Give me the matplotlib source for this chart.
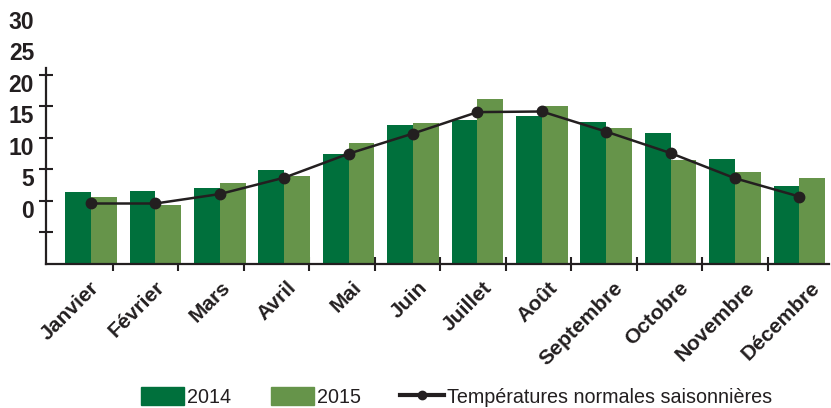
import numpy as np
import matplotlib
matplotlib.use("Agg")
import matplotlib.pyplot as plt
import matplotlib.transforms as mtransforms
from matplotlib import font_manager as fm
from matplotlib.patches import Patch
from matplotlib.lines import Line2D

months = ["Janvier", "Février", "Mars", "Avril", "Mai", "Juin", "Juillet",
          "Août", "Septembre", "Octobre", "Novembre", "Décembre"]
t2014 = [1.4, 1.6, 2.1, 4.9, 7.5, 12.1, 12.9, 13.5, 12.5, 10.8, 6.7, 2.4]
t2015 = [0.6, -0.6, 2.9, 4.0, 9.2, 12.3, 16.2, 15.1, 11.6, 6.5, 4.6, 3.7]
normales = [-0.4, -0.4, 1.1, 3.7, 7.5, 10.7, 14.1, 14.2, 11.0, 7.6, 3.6, 0.7]
ylabels = [0, 5, 10, 15, 20, 25, 30]

DARK = "#00703c"
LIGHT = "#66944a"
INK = "#231f20"

names = {f.name for f in fm.fontManager.ttflist}
narrow = "Liberation Sans Narrow" in names
BOLDFAM = ["Liberation Sans Narrow" if narrow else "Liberation Sans", "DejaVu Sans"]
REG = ["Liberation Sans", "DejaVu Sans"]

fig = plt.figure(figsize=(8.31, 4.08), dpi=100)
ax = fig.add_axes([46/831, 1-264/408, (829-46)/831, (264-68)/408])

x = np.arange(len(months))
w = 0.40
base = -10
ax.bar(x - w/2, np.array(t2014) - base, w, bottom=base, color=DARK, zorder=2)
ax.bar(x + w/2, np.array(t2015) - base, w, bottom=base, color=LIGHT, zorder=2)
ax.plot(x, normales, color=INK, lw=1.8, marker="o", ms=7.5, zorder=3)

ax.set_xlim(-0.70, 11.46)
ax.set_ylim(-10, 21.1)

for s in ["top", "right"]:
    ax.spines[s].set_visible(False)
for s in ["left", "bottom"]:
    ax.spines[s].set_color(INK)
    ax.spines[s].set_linewidth(1.6)
    ax.spines[s].set_zorder(4)

# boundary ticks (slightly wider spacing than the bars, as in the reference)
step = (10.51 - 0.34) / 10
ax.set_xticks(0.34 + step * np.arange(11))
ax.set_xticklabels([])
ax.set_yticks([-5, 0, 5, 10, 15, 20])
ax.set_yticklabels([])
ax.tick_params(axis="both", which="major", direction="inout", length=10,
               width=1.5, color=INK)

# month labels follow the tick spacing
fs_month = 17.5 if narrow else 15.2
ax.set_xticks(step * np.arange(len(months)) - 0.02, minor=True)
ax.set_xticklabels(months, minor=True, rotation=45, ha="right",
                   rotation_mode="anchor", fontsize=fs_month, fontweight="bold",
                   family=BOLDFAM, color=INK)
ax.tick_params(axis="x", which="minor", length=0, pad=10)

# y labels (offset below ticks as in the reference)
tr = mtransforms.blended_transform_factory(fig.transFigure, ax.transData)
for v in ylabels:
    ax.text(34/831, v - 1.65, str(v), transform=tr, ha="right", va="center",
            fontsize=18 if narrow else 16.5, fontweight="bold",
            family=BOLDFAM, color=INK, clip_on=False)

handles = [Patch(color=DARK), Patch(color=LIGHT),
           Line2D([], [], color=INK, lw=3, marker="o", ms=6)]
fig.legend(handles, ["2014", "2015", "Températures normales saisonnières"],
           loc="center", bbox_to_anchor=(0.549, 0.027), ncol=3, frameon=False,
           handlelength=2.2, handleheight=1.0,
           handletextpad=0.15, columnspacing=2.0, borderaxespad=0,
           prop={"family": REG, "size": 14.2}, labelcolor=INK)

fig.savefig("out.png", dpi=100)
